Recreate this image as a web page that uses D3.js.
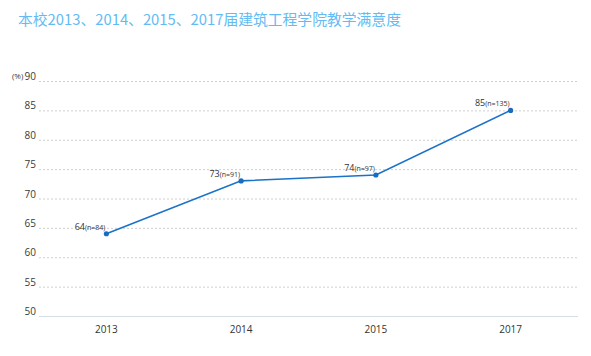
<!DOCTYPE html>
<html><head><meta charset="utf-8">
<script src="https://cdn.jsdelivr.net/npm/d3@7"></script>
<style>body{margin:0;background:#fff}svg{display:block}</style>
</head><body>
<svg id="c" width="591" height="356"></svg>
<script>
const title = "本校2013、2014、2015、2017届建筑工程学院教学满意度";
const categories = ["2013", "2014", "2015", "2017"];
const values = [64, 73, 74, 85];
const sampleSizes = [84, 91, 97, 135];
const yTicks = [50, 55, 60, 65, 70, 75, 80, 85, 90];

(function () {
const svg = d3.select("#c");
const mLeft = 39, mRight = 578, mTop = 81, mBottom = 316;
const font = "'Open Sans','DejaVu Sans',sans-serif";

svg.append("text").attr("x", 18).attr("y", 25).text(title)
  .attr("font-family", "'Noto Sans CJK SC',sans-serif").attr("font-size", 14.8)
  .attr("fill", "#64bbf4");

const x = d3.scaleBand().domain(categories).range([mLeft, mRight]);
const y = d3.scaleLinear().domain([50, 90]).range([mBottom, mTop]);

svg.append("g").selectAll("line").data(yTicks.filter(d => d > 50)).join("line")
  .attr("x1", mLeft).attr("x2", mRight)
  .attr("y1", d => y(d) + 0.5).attr("y2", d => y(d) + 0.5)
  .attr("stroke", "#cfcfcf").attr("stroke-dasharray", "2,2");

svg.append("g").selectAll("text").data(yTicks).join("text")
  .attr("x", 36).attr("y", d => y(d) - 1)
  .attr("text-anchor", "end").attr("font-family", font).attr("font-size", 10)
  .attr("fill", "#3a3a3a").text(d => d);
svg.append("text").attr("x", 12).attr("y", y(90) - 2).text("(%)")
  .attr("font-family", font).attr("font-size", 8).attr("fill", "#3a3a3a");

svg.append("line").attr("x1", mLeft).attr("x2", mRight)
  .attr("y1", mBottom + 0.5).attr("y2", mBottom + 0.5).attr("stroke", "#d5dde6");
svg.append("g").selectAll("text").data(categories).join("text")
  .attr("x", d => x(d) + x.bandwidth() / 2).attr("y", 333)
  .attr("text-anchor", "middle").attr("font-family", font).attr("font-size", 10)
  .attr("fill", "#333").text(d => d);

const pts = categories.map((c, i) => [x(c) + x.bandwidth() / 2, y(values[i])]);
svg.append("path").attr("d", d3.line()(pts)).attr("fill", "none")
  .attr("stroke", "#1a72c9").attr("stroke-width", 1.6);
svg.append("g").selectAll("circle").data(pts).join("circle")
  .attr("cx", d => d[0]).attr("cy", d => d[1]).attr("r", 2.6).attr("fill", "#1a6cc2");

const lbl = svg.append("g").selectAll("text").data(pts).join("text")
  .attr("x", d => d[0] - 1).attr("y", d => d[1] - 4)
  .attr("text-anchor", "end").attr("font-family", font).attr("fill", "#333");
lbl.append("tspan").attr("font-size", 9).text((d, i) => values[i]);
lbl.append("tspan").attr("font-size", 7).text((d, i) => "(n=" + sampleSizes[i] + ")");
})();
</script>
</body></html>
